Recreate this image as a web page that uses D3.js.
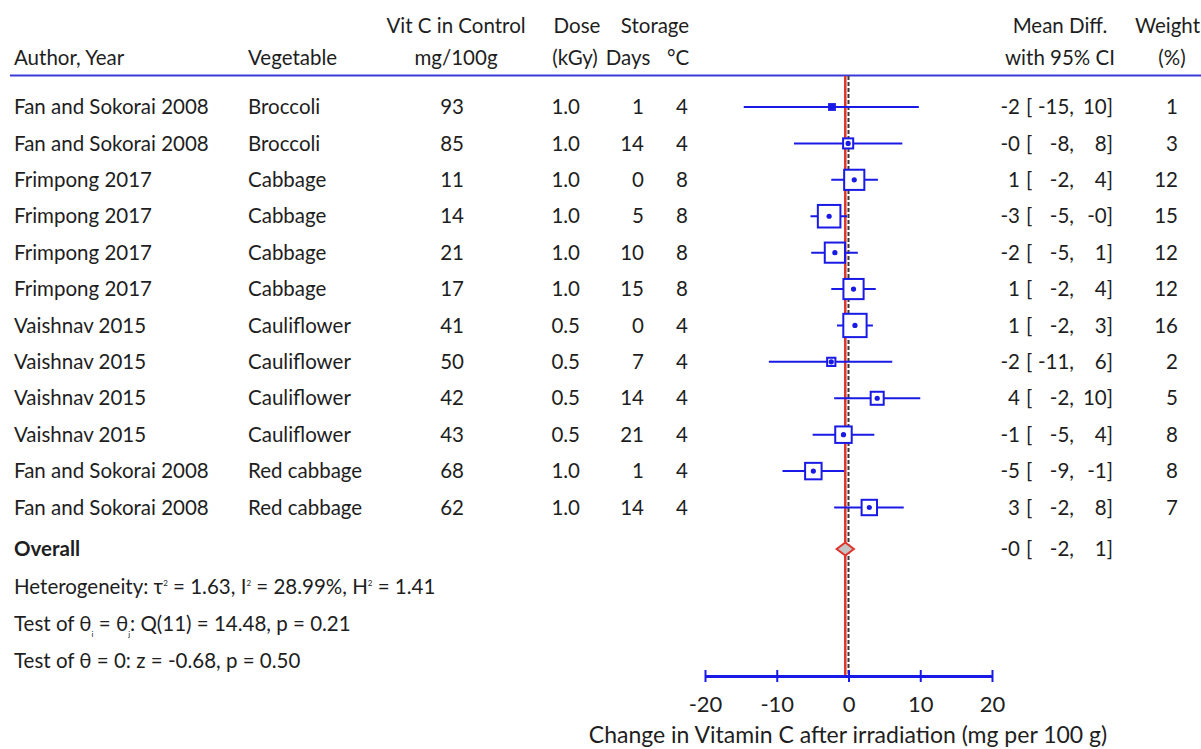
<!DOCTYPE html>
<html>
<head>
<meta charset="utf-8">
<script src="https://cdn.jsdelivr.net/npm/d3@7"></script>
<style>
  html, body { margin: 0; padding: 0; background: #fff; }
  svg { display: block; }
  text { font-family: Lato, "Open Sans", sans-serif; fill: #1e1e1e; }
</style>
</head>
<body>
<svg id="chart" width="1201" height="749"></svg>
<script>
// Study rows
const authors = ["Fan and Sokorai 2008", "Fan and Sokorai 2008", "Frimpong 2017", "Frimpong 2017",
  "Frimpong 2017", "Frimpong 2017", "Vaishnav 2015", "Vaishnav 2015", "Vaishnav 2015",
  "Vaishnav 2015", "Fan and Sokorai 2008", "Fan and Sokorai 2008"];
const vegetables = ["Broccoli", "Broccoli", "Cabbage", "Cabbage", "Cabbage", "Cabbage",
  "Cauliflower", "Cauliflower", "Cauliflower", "Cauliflower", "Red cabbage", "Red cabbage"];
const vitC = [93, 85, 11, 14, 21, 17, 41, 50, 42, 43, 68, 62];
const dose = [1.0, 1.0, 1.0, 1.0, 1.0, 1.0, 0.5, 0.5, 0.5, 0.5, 1.0, 1.0];
const storageDays = [1, 14, 0, 5, 10, 15, 0, 7, 14, 21, 1, 14];
const storageTemp = [4, 4, 8, 8, 8, 8, 4, 4, 4, 4, 4, 4];

// Effect sizes (mean difference, mg/100 g) with 95% CI and weights (%)
const meanDiff = [-2.3, -0.05, 0.8, -2.7, -1.9, 0.7, 0.9, -2.4, 4.0, -0.7, -4.9, 2.9];
const ciLow = [-14.6, -7.6, -2.4, -5.3, -5.2, -2.4, -1.6, -11.1, -2.0, -5.0, -9.2, -2.0];
const ciHigh = [9.8, 7.5, 4.1, -0.2, 1.3, 3.8, 3.4, 6.1, 10.0, 3.6, -0.6, 7.7];
const weights = [1, 3, 12, 15, 12, 12, 16, 2, 5, 8, 8, 7];

// Pooled estimate
const overallMean = -0.45;
const overallLow = -1.65;
const overallHigh = 0.75;

const xTicks = [-20, -10, 0, 10, 20];

const svg = d3.select("#chart");
const blue = "#1a1ae6";

const x = d3.scaleLinear().domain([-20, 20]).range([705, 992]);
const y = d3.scaleLinear().domain([0, authors.length - 1]).range([107, 507.5]);
const yOverall = 549;
const side = d3.scaleSqrt().domain([0, 16]).range([0, 23.3]);

const fmtInt = v => (v < 0 ? "-" : "") + Math.abs(Math.round(v));
const fmtDose = d3.format(".1f");

const FS = 20.5;

// Header
const head = svg.append("g").style("font-size", FS + "px");
const h1 = 33, h2 = 65;
head.append("text").attr("x", 14).attr("y", h2).text("Author, Year");
head.append("text").attr("x", 248).attr("y", h2).text("Vegetable");
head.append("text").attr("x", 456).attr("y", h1).attr("text-anchor", "middle").text("Vit C in Control");
head.append("text").attr("x", 456).attr("y", h2).attr("text-anchor", "middle").text("mg/100g");
head.append("text").attr("x", 577).attr("y", h1).attr("text-anchor", "middle").text("Dose");
head.append("text").attr("x", 575).attr("y", h2).attr("text-anchor", "middle").text("(kGy)");
head.append("text").attr("x", 655).attr("y", h1).attr("text-anchor", "middle").text("Storage");
head.append("text").attr("x", 628).attr("y", h2).attr("text-anchor", "middle").text("Days");
head.append("text").attr("x", 678).attr("y", h2).attr("text-anchor", "middle").text("°C");
head.append("text").attr("x", 1060).attr("y", h1).attr("text-anchor", "middle").text("Mean Diff.");
head.append("text").attr("x", 1060).attr("y", h2).attr("text-anchor", "middle").text("with 95% CI");
head.append("text").attr("x", 1200).attr("y", h1).attr("text-anchor", "end").text("Weight");
head.append("text").attr("x", 1172).attr("y", h2).attr("text-anchor", "middle").text("(%)");

svg.append("line").attr("x1", 10).attr("x2", 1201).attr("y1", 75.5).attr("y2", 75.5)
  .attr("stroke", "#3b3bdc").attr("stroke-width", 2);

// Row text
const rows = svg.append("g").style("font-size", FS + "px");
const rowG = rows.selectAll("g.row").data(authors.map((a, i) => i)).join("g")
  .attr("class", "row").attr("transform", i => `translate(0,${y(i)})`);
const cell = (sel, xPos, anchor, f) => sel.append("text").attr("x", xPos).attr("dy", "0.35em")
  .attr("text-anchor", anchor).text(f);
cell(rowG, 14, "start", i => authors[i]);
cell(rowG, 248, "start", i => vegetables[i]);
cell(rowG, 464, "end", i => vitC[i]);
cell(rowG, 580, "end", i => fmtDose(dose[i]));
cell(rowG, 644, "end", i => storageDays[i]);
cell(rowG, 688, "end", i => storageTemp[i]);
cell(rowG, 1020, "end", i => fmtInt(meanDiff[i]));
cell(rowG, 1026, "start", () => "[");
cell(rowG, 1074, "end", i => fmtInt(ciLow[i]) + ",");
cell(rowG, 1113, "end", i => fmtInt(ciHigh[i]) + "]");
cell(rowG, 1178, "end", i => weights[i]);

// Overall row and statistics
const ov = svg.append("g").style("font-size", FS + "px").attr("transform", `translate(0,${yOverall})`);
ov.append("text").attr("x", 14).attr("dy", "0.35em").style("font-weight", 700).text("Overall");
ov.append("text").attr("x", 1020).attr("dy", "0.35em").attr("text-anchor", "end").text(fmtInt(overallMean));
ov.append("text").attr("x", 1026).attr("dy", "0.35em").text("[");
ov.append("text").attr("x", 1074).attr("dy", "0.35em").attr("text-anchor", "end").text(fmtInt(overallLow) + ",");
ov.append("text").attr("x", 1113).attr("dy", "0.35em").attr("text-anchor", "end").text(fmtInt(overallHigh) + "]");

// Statistics lines; objects are raised/lowered small glyphs
const stats = svg.append("g").style("font-size", FS + "px");
function richLine(yPos, parts) {
  const t = stats.append("text").attr("x", 14).attr("y", yPos + 0.35 * FS);
  let shift = 0;
  parts.forEach(p => {
    if (typeof p === "string") {
      t.append("tspan").attr("dy", -shift).text(p);
      shift = 0;
    } else {
      t.append("tspan").attr("dy", p.dy).style("font-size", "8px").text(p.t);
      shift = p.dy;
    }
  });
}
richLine(587, ["Heterogeneity: τ", {t: "2", dy: -8}, " = 1.63, I", {t: "2", dy: -8}, " = 28.99%, H", {t: "2", dy: -8}, " = 1.41"]);
richLine(624, ["Test of θ", {t: "i", dy: 6}, " = θ", {t: "j", dy: 6}, ": Q(11) = 14.48, p = 0.21"]);
richLine(661, ["Test of θ = 0: z = -0.68, p = 0.50"]);

// Reference lines
const plot = svg.append("g");
plot.append("line").attr("x1", x(0)).attr("x2", x(0)).attr("y1", 76).attr("y2", 676)
  .attr("stroke", "#3a3a3a").attr("stroke-width", 2).attr("stroke-dasharray", "4,2");
plot.append("line").attr("x1", x(overallMean)).attr("x2", x(overallMean)).attr("y1", 76).attr("y2", 676)
  .attr("stroke", "#e0332b").attr("stroke-width", 2.5);

// Confidence intervals
const idx = authors.map((a, i) => i);
plot.selectAll("line.ci").data(idx).join("line").attr("class", "ci")
  .attr("x1", i => x(ciLow[i])).attr("x2", i => x(ciHigh[i]))
  .attr("y1", i => y(i)).attr("y2", i => y(i))
  .attr("stroke", blue).attr("stroke-width", 2);

// Weight boxes
plot.selectAll("rect.box").data(idx).join("rect").attr("class", "box")
  .attr("x", i => x(meanDiff[i]) - side(weights[i]) / 2)
  .attr("y", i => y(i) - side(weights[i]) / 2)
  .attr("width", i => side(weights[i])).attr("height", i => side(weights[i]))
  .attr("fill", i => side(weights[i]) < 7 ? blue : "#fff")
  .attr("stroke", blue).attr("stroke-width", 2);
plot.selectAll("circle.pt").data(idx.filter(i => side(weights[i]) >= 7)).join("circle").attr("class", "pt")
  .attr("cx", i => x(meanDiff[i])).attr("cy", i => y(i)).attr("r", 2.6).attr("fill", blue);

// Pooled diamond
plot.append("path")
  .attr("d", `M${x(overallLow)},${yOverall} L${x(overallMean)},${yOverall - 6.5} L${x(overallHigh)},${yOverall} L${x(overallMean)},${yOverall + 6.5} Z`)
  .attr("fill", "#c4c4c4").attr("stroke", "#e0332b").attr("stroke-width", 2);

// Axis
const axisY = 676;
const axis = svg.append("g").attr("transform", `translate(0,${axisY})`)
  .call(d3.axisBottom(x).tickValues(xTicks).tickSizeInner(6).tickSizeOuter(0).tickPadding(14)
    .tickFormat(d => (d < 0 ? "-" : "") + Math.abs(d)));
axis.select(".domain").attr("stroke", blue).attr("stroke-width", 3);
axis.selectAll(".tick line").attr("stroke", blue).attr("stroke-width", 2).attr("y1", -6).attr("y2", 6);
axis.selectAll(".tick text").style("font-family", "Lato, sans-serif").style("font-size", "22px").attr("fill", "#1e1e1e");

svg.append("text").attr("x", 848).attr("y", 743).attr("text-anchor", "middle")
  .style("font-size", "23px").text("Change in Vitamin C after irradiation (mg per 100 g)");
</script>
</body>
</html>
